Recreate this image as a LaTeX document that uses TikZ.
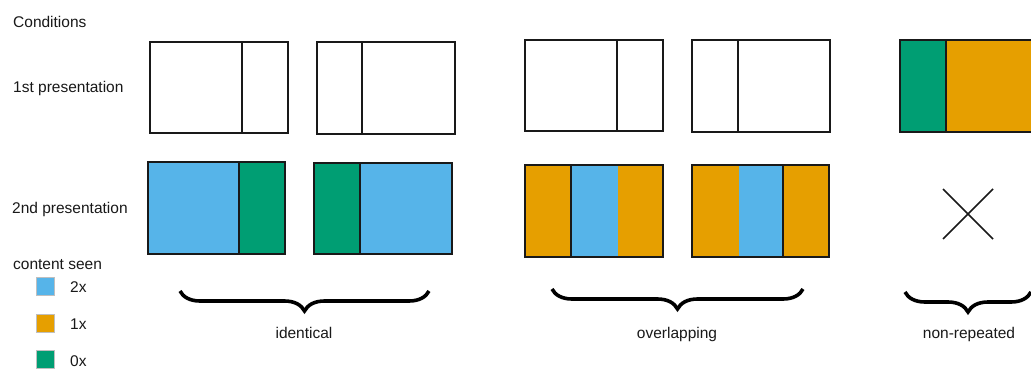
\documentclass[tikz,border=0pt]{standalone}
\usepackage{fontspec}
\setmainfont{Liberation Sans}
\usetikzlibrary{decorations.pathreplacing}
\definecolor{cblue}{HTML}{56B4E9}
\definecolor{corange}{HTML}{E69F00}
\definecolor{cgreen}{HTML}{009E73}
\begin{document}
\begin{tikzpicture}[x=1pt,y=-1pt,
  txt/.style={font=\fontsize{15.5}{18}\selectfont, inner sep=0pt, text=black!90},
  boxline/.style={draw=black!90, line width=1.6pt},
  boldline/.style={draw=black!90, line width=2.4pt},
  legsq/.style={draw=black!25, line width=0.6pt},
  bracestyle/.style={decorate, decoration={brace, amplitude=20pt, aspect=0.5}, line width=3.6pt, draw=black}]
\clip (0,0) rectangle (1031,368);
\fill[white] (0,0) rectangle (1031,368);
% labels
\node[txt, anchor=base west] (cond) at (13,27.5) {Conditions};
\node[txt, anchor=base west] (first) at (13,92.5) {1st presentation};
\node[txt, anchor=base west] (second) at (12,213.5) {2nd presentation};
\node[txt, anchor=base west] (seen) at (13,269) {content seen};
\node[txt, anchor=base west] (l2) at (70,292.5) {2x};
\node[txt, anchor=base west] (l1) at (70,329) {1x};
\node[txt, anchor=base west] (l0) at (70,366) {0x};
% legend squares
\fill[cblue] (36,277) rectangle (54,295); \draw[legsq] (36,277) rectangle (54,295);
\fill[corange] (36,314) rectangle (54,332); \draw[legsq] (36,314) rectangle (54,332);
\fill[cgreen] (36,350) rectangle (54,368); \draw[legsq] (36,350) rectangle (54,368);
% row 1
\draw[boxline] (150,42) rectangle (288,133); \draw[boxline] (242,42) -- (242,133);
\draw[boxline] (317,42) rectangle (455,134); \draw[boxline] (362,42) -- (362,134);
\draw[boxline] (525,40) rectangle (663,131); \draw[boxline] (617,40) -- (617,131);
\draw[boxline] (692,40) rectangle (830,132); \draw[boxline] (738,40) -- (738,132);
\fill[cgreen] (900,40) rectangle (946,132);
\fill[corange] (946,40) rectangle (1040,132);
\draw[boxline] (900,40) rectangle (1040,132); \draw[boxline] (946,40) -- (946,132);
% row 2
\fill[cblue] (148,162) rectangle (239,254);
\fill[cgreen] (239,162) rectangle (285,254);
\draw[boxline] (148,162) rectangle (285,254); \draw[boxline] (239,162) -- (239,254);
\fill[cgreen] (314,163) rectangle (360,254);
\fill[cblue] (360,163) rectangle (452,254);
\draw[boxline] (314,163) rectangle (452,254); \draw[boxline] (360,163) -- (360,254);
\fill[corange] (525,165) rectangle (571,257);
\fill[cblue] (571,165) rectangle (618,257);
\fill[corange] (618,165) rectangle (663,257);
\draw[boldline] (525,165) rectangle (663,257); \draw[boxline] (571,165) -- (571,257);
\fill[corange] (692,165) rectangle (739,257);
\fill[cblue] (739,165) rectangle (783,257);
\fill[corange] (783,165) rectangle (829,257);
\draw[boldline] (692,165) rectangle (829,257); \draw[boxline] (783,165) -- (783,257);
% cross
\draw[line width=1.6pt, black!90] (943,189) -- (993,239);
\draw[line width=1.6pt, black!90] (943,239) -- (993,189);
% braces
\coordinate (b1r) at (429,291); \coordinate (b1l) at (180,291);
\coordinate (b2r) at (803,289); \coordinate (b2l) at (552,289);
\coordinate (b3r) at (1031,292); \coordinate (b3l) at (905,292);
\draw[bracestyle] (b1r) -- (b1l);
\draw[bracestyle] (b2r) -- (b2l);
\draw[bracestyle] (b3r) -- (b3l);
\node[txt, anchor=base] (ident) at (304,338) {identical};
\node[txt, anchor=base] (overl) at (677,338) {overlapping};
\node[txt, anchor=base] (nonrep) at (969,338) {non-repeated};
\end{tikzpicture}
\end{document}
